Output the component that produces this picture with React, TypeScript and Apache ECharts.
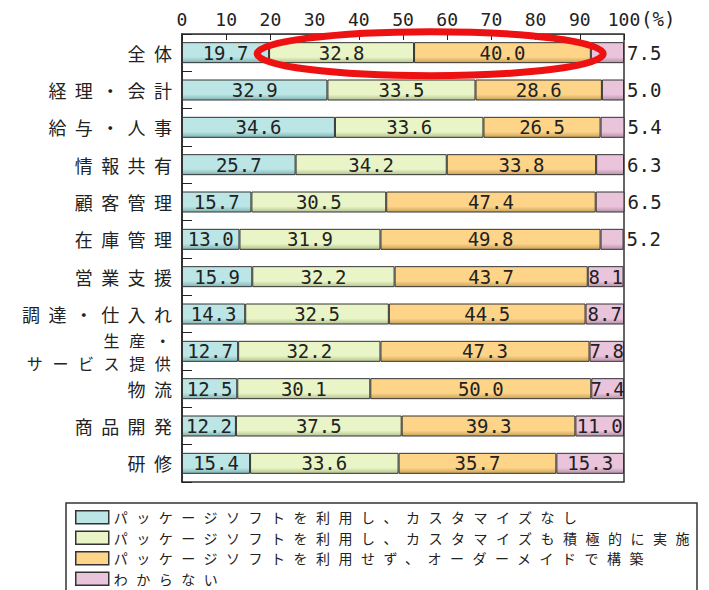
import React, { useEffect, useRef } from "react";
import * as echarts from "echarts";

const categories = [
  "全体",
  "経理・会計",
  "給与・人事",
  "情報共有",
  "顧客管理",
  "在庫管理",
  "営業支援",
  "調達・仕入れ",
  "生産・\nサービス提供",
  "物流",
  "商品開発",
  "研修",
];

const seriesNames = [
  "パッケージソフトを利用し、カスタマイズなし",
  "パッケージソフトを利用し、カスタマイズも積極的に実施",
  "パッケージソフトを利用せず、オーダーメイドで構築",
  "わからない",
];

const noCustom = [19.7, 32.9, 34.6, 25.7, 15.7, 13.0, 15.9, 14.3, 12.7, 12.5, 12.2, 15.4];
const activeCustom = [32.8, 33.5, 33.6, 34.2, 30.5, 31.9, 32.2, 32.5, 32.2, 30.1, 37.5, 33.6];
const orderMade = [40.0, 28.6, 26.5, 33.8, 47.4, 49.8, 43.7, 44.5, 47.3, 50.0, 39.3, 35.7];
const unknown = [7.5, 5.0, 5.4, 6.3, 6.5, 5.2, 8.1, 8.7, 7.8, 7.4, 11.0, 15.3];
const unknownLabelOutside = [true, true, true, true, true, true, false, false, false, false, false, false];

const seriesData = [noCustom, activeCustom, orderMade, unknown];
const baseColors = ["#bce5e5", "#e9f5c6", "#fdd488", "#e9c4db"];
const shadeColors = ["#7fb3b3", "#b5c38f", "#c9a35a", "#b791a8"];

const numFont = "DejaVu Sans Mono";
const jpFont = "Noto Sans CJK JP";

export default function App() {
  const ref = useRef<HTMLDivElement>(null);

  useEffect(() => {
    if (!ref.current) return;
    const chart = echarts.init(ref.current, null, { renderer: "svg" });

    const series = seriesData.map((arr, si) => ({
      name: seriesNames[si],
      type: "bar",
      stack: "total",
      barWidth: 21,
      data: arr.map((v, i) =>
        si === 3 && unknownLabelOutside[i]
          ? { value: v, label: { position: "right", distance: 3 } }
          : v
      ),
      itemStyle: {
        color: new echarts.graphic.LinearGradient(0, 0, 0, 1, [
          { offset: 0, color: baseColors[si] },
          { offset: 0.72, color: baseColors[si] },
          { offset: 1, color: shadeColors[si] },
        ]),
        borderColor: "#333",
        borderWidth: 1,
      },
      label: {
        show: true,
        position: "inside",
        fontFamily: numFont,
        fontSize: 19,
        color: "#222",
        formatter: (p: any) => Number(p.value).toFixed(1),
      },
      emphasis: { disabled: true },
    }));

    chart.setOption({
      animation: false,
      grid: {
        left: 182,
        right: 85,
        top: 34,
        height: 448,
        show: true,
        borderColor: "#333",
        borderWidth: 1.5,
        backgroundColor: "transparent",
      },
      xAxis: {
        type: "value",
        position: "top",
        min: 0,
        max: 100,
        interval: 10,
        axisLine: { show: true, lineStyle: { color: "#444", width: 1 } },
        axisTick: { show: true, inside: true, length: 6, lineStyle: { color: "#222" } },
        splitLine: { show: false },
        axisLabel: {
          fontFamily: numFont,
          fontSize: 18,
          color: "#222",
          margin: 6,
        },
      },
      yAxis: {
        type: "category",
        inverse: true,
        data: categories,
        axisLine: { show: true, lineStyle: { color: "#222", width: 1.5 } },
        axisTick: { show: true, inside: true, length: 10, lineStyle: { color: "#222" } },
        axisLabel: {
          interval: 0,
          fontFamily: jpFont,
          fontSize: 18,
          lineHeight: 22,
          color: "#222",
          margin: 1.6,
          formatter: (v: string) =>
            v.indexOf("\n") >= 0
              ? v
                  .split("\n")
                  .map((line) => "{s|" + line + "}")
                  .join("\n")
              : v,
          rich: {
            s: { fontFamily: jpFont, fontSize: 16, lineHeight: 23.5, color: "#222" },
          },
        },
      },
      legend: {
        orient: "vertical",
        left: 75,
        top: 509.5,
        padding: 0,
        itemWidth: 33,
        itemHeight: 13,
        itemGap: 5,
        icon: "rect",
        selectedMode: false,
        textStyle: { fontFamily: jpFont, fontSize: 14, lineHeight: 15.5, color: "#222" },
        data: seriesNames.map((n, i) => ({
          name: n,
          itemStyle: { color: baseColors[i], borderColor: "#333", borderWidth: 1.5 },
        })),
      },
      series,
    });

    const pLeft = chart.convertToPixel({ gridIndex: 0 }, [17, categories[0]]) as number[];
    const pRight = chart.convertToPixel({ gridIndex: 0 }, [95.3, categories[0]]) as number[];
    const p100 = chart.convertToPixel({ gridIndex: 0 }, [100, categories[0]]) as number[];

    chart.setOption({
      graphic: [
        {
          type: "text",
          left: p100[0] + 17,
          top: 9,
          style: { text: "(%)", fontFamily: numFont, fontSize: 19, fill: "#222" },
        },
        {
          type: "rect",
          shape: { x: 66, y: 503, width: 631, height: 120 },
          style: { fill: "none", stroke: "#333", lineWidth: 1.5 },
          z: 1,
        },
        {
          type: "ellipse",
          shape: {
            cx: (pLeft[0] + pRight[0]) / 2,
            cy: pLeft[1] + 1,
            rx: (pRight[0] - pLeft[0]) / 2,
            ry: 22,
          },
          style: { fill: "none", stroke: "#ee1111", lineWidth: 7 },
          z: 100,
        },
      ],
    });

    return () => chart.dispose();
  }, []);

  return (
    <div>
      <style>{`
        .chartbox svg text[style*="18px"][style*="CJK"] { letter-spacing: 8.4px; }
        .chartbox svg text[style*="16px"][style*="CJK"] { letter-spacing: 9.6px; }
        .chartbox svg text[style*="14px"][style*="CJK"] { letter-spacing: 8.5px; }
      `}</style>
      <div
        ref={ref}
        className="chartbox"
        style={{ position: "absolute", left: 0, top: 0, width: 709, height: 590, background: "#fff" }}
      />
    </div>
  );
}
